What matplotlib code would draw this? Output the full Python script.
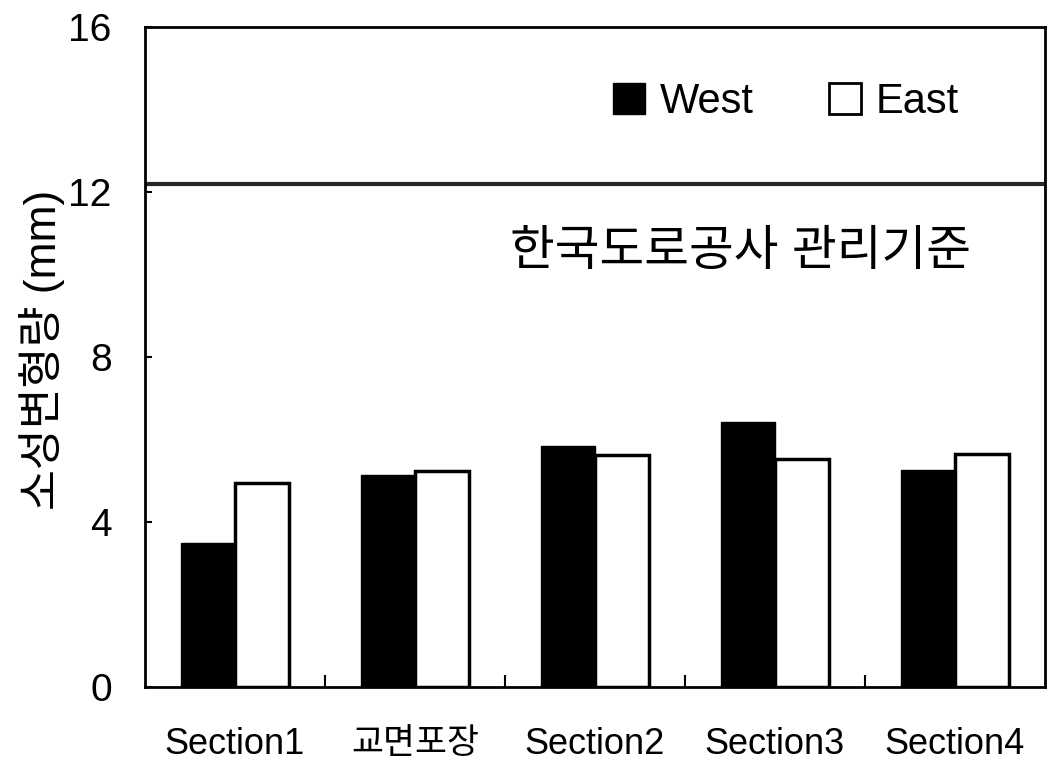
import matplotlib
matplotlib.use("Agg")
import matplotlib.pyplot as plt
from matplotlib.patches import Patch
import numpy as np

plt.rcParams['font.family'] = ['Liberation Sans', 'Noto Sans CJK KR']

# 데이터
categories = ['Section1', '교면포장', 'Section2', 'Section3', 'Section4']
west = [3.49, 5.13, 5.84, 6.42, 5.25]
east = [4.94, 5.23, 5.62, 5.52, 5.64]
limit_value = 12.2
limit_label = '한국도로공사 관리기준'
y_ticks = [0, 4, 8, 12, 16]

fig = plt.figure(figsize=(10.48, 7.68), dpi=100)
ax = fig.add_axes([0.1384, 0.1055, 0.8586, 0.8594])

x = np.arange(len(categories))
w = 0.3
ax.bar(x - w / 2, west, w, color='black', edgecolor='black', linewidth=1)
ax.bar(x + w / 2, east, w, color='white', edgecolor='black', linewidth=2.5)

# 관리기준 선
ax.axhline(limit_value, color='0.15', linewidth=3)
ax.text(2.81, 10.53, limit_label, fontsize=35, ha='center', va='center')

ax.set_xlim(-0.5, len(categories) - 0.5)
ax.set_ylim(0, 16)
ax.set_yticks(y_ticks)
ax.tick_params(axis='y', direction='in', length=5, width=1.5, pad=24, labelsize=28)
ax.set_xticks(x)
ax.set_xticklabels(categories)
ax.tick_params(axis='x', which='major', length=0, pad=29, labelsize=26)
ax.get_xticklabels()[1].set_fontsize(25)
ax.set_xticks(x[:-1] + 0.5, minor=True)
ax.tick_params(axis='x', which='minor', direction='in', length=9, width=1.5)

for s in ax.spines.values():
    s.set_linewidth(2)

ax.set_ylabel('소성변형량 (mm)', fontsize=32, va='center')
ax.yaxis.set_label_coords(-0.114, 0.51)

handles = [Patch(facecolor='black', edgecolor='black', linewidth=1),
           Patch(facecolor='white', edgecolor='black', linewidth=2)]
ax.legend(handles, ['West', 'East'], ncol=2, frameon=False, fontsize=30,
          loc='center left', bbox_to_anchor=(0.52, 0.886),
          handlelength=0.77, handleheight=0.77, handletextpad=0.36,
          columnspacing=1.8, borderpad=0, borderaxespad=0)

fig.savefig('out.png', dpi=100, facecolor='white')
